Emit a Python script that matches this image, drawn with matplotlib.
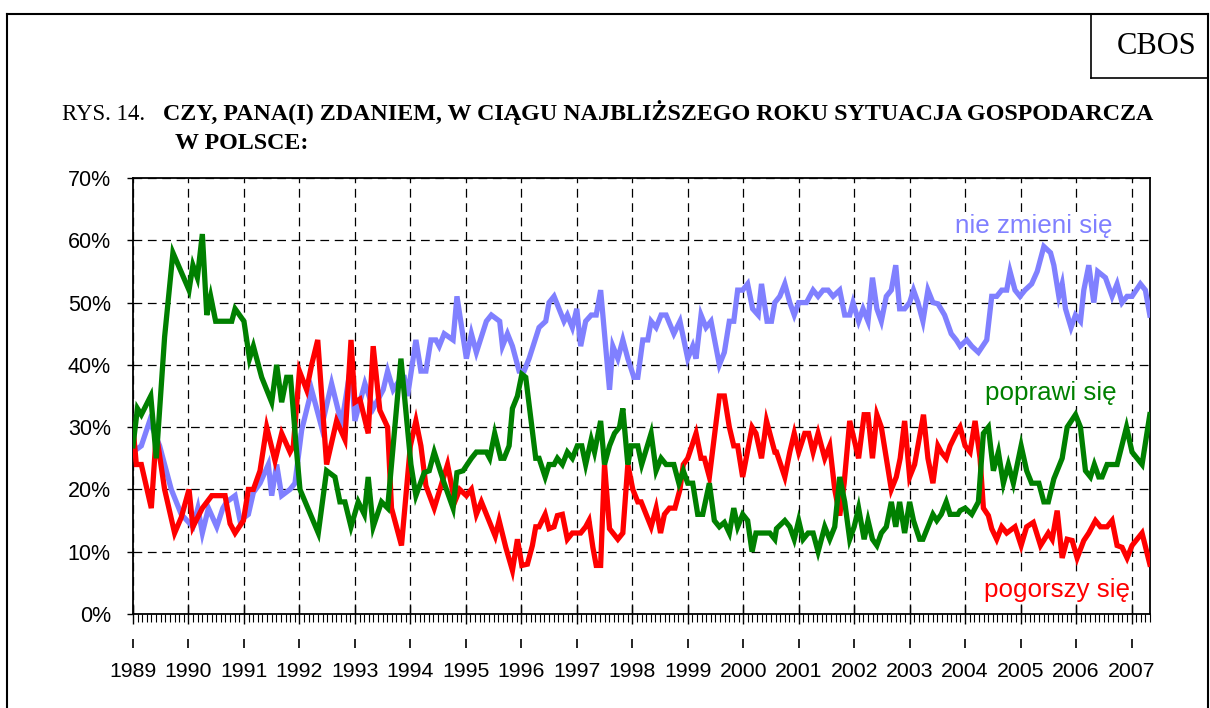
import matplotlib
matplotlib.use("Agg")
import matplotlib.pyplot as plt
import matplotlib.transforms as mtransforms
from matplotlib.lines import Line2D
import numpy as np

# ---- data (year fraction, percent) ----
nie_zmieni_x = [1989.00, 1989.15, 1989.30, 1989.48, 1989.69, 1989.87, 1990.08, 1990.17, 1990.25, 1990.36, 1990.51,
                1990.62, 1990.69, 1990.84, 1990.93, 1991.08, 1991.17, 1991.29, 1991.44, 1991.50, 1991.59, 1991.68,
                1991.83, 1991.92, 1992.04, 1992.22, 1992.40, 1992.58, 1992.76, 1992.93, 1993.00, 1993.18, 1993.33,
                1993.51, 1993.59, 1993.69, 1993.84, 1993.89, 1993.95, 1994.10, 1994.19, 1994.28, 1994.37, 1994.46,
                1994.52, 1994.61, 1994.77, 1994.84, 1995.01, 1995.10, 1995.19, 1995.37, 1995.46, 1995.61, 1995.66,
                1995.75, 1995.84, 1995.96, 1996.05, 1996.14, 1996.32, 1996.44, 1996.50, 1996.59, 1996.68, 1996.77,
                1996.83, 1996.92, 1997.00, 1997.07, 1997.16, 1997.26, 1997.35, 1997.43, 1997.59, 1997.65, 1997.74,
                1997.83, 1997.92, 1998.03, 1998.10, 1998.19, 1998.28, 1998.34, 1998.43, 1998.52, 1998.61, 1998.75,
                1998.86, 1999.00, 1999.09, 1999.15, 1999.24, 1999.33, 1999.42, 1999.57, 1999.66, 1999.75, 1999.83,
                1999.90, 1999.99, 2000.08, 2000.17, 2000.27, 2000.33, 2000.43, 2000.51, 2000.57, 2000.66, 2000.75,
                2000.84, 2000.92, 2001.00, 2001.14, 2001.26, 2001.35, 2001.44, 2001.53, 2001.62, 2001.74, 2001.83,
                2001.92, 2001.98, 2002.08, 2002.16, 2002.25, 2002.33, 2002.41, 2002.49, 2002.58, 2002.67, 2002.75,
                2002.82, 2002.91, 2003.00, 2003.07, 2003.15, 2003.24, 2003.33, 2003.42, 2003.51, 2003.63, 2003.75,
                2003.84, 2003.91, 2004.03, 2004.12, 2004.24, 2004.39, 2004.48, 2004.57, 2004.66, 2004.75, 2004.81,
                2004.90, 2004.99, 2005.08, 2005.20, 2005.30, 2005.42, 2005.54, 2005.60, 2005.69, 2005.75, 2005.81,
                2005.91, 2005.99, 2006.08, 2006.14, 2006.23, 2006.32, 2006.39, 2006.53, 2006.65, 2006.74, 2006.83,
                2006.92, 2007.01, 2007.16, 2007.25, 2007.33]
nie_zmieni_y = [26, 27, 31, 27, 20, 16, 14, 17, 13, 17, 14,
                17, 18, 19, 15, 16, 19.5, 21, 24, 19, 24, 19,
                20, 21, 29.5, 36, 30, 37, 30.5, 40, 31, 37, 33,
                36, 39, 36, 38, 38, 35, 44, 39, 39, 44, 44,
                43, 45, 44, 51, 41, 45, 42, 47, 48, 47, 43,
                45, 43, 39, 39, 41, 46, 47, 50, 51, 49, 47,
                48, 46, 49, 43, 47, 48, 48, 52, 36, 43, 41,
                44, 41, 38, 38, 44, 44, 47, 46, 48, 48, 45,
                47, 41, 43, 41, 48, 46, 47, 40, 42, 47, 47,
                52, 52, 53, 49, 48, 53, 47, 47, 50, 51, 53,
                50, 48, 50, 50, 52, 51, 52, 52, 51, 52, 48,
                48, 50, 47, 49, 47, 54, 49, 47, 51, 52, 56,
                49, 49, 50, 52, 50, 47, 52, 50, 49.8, 48, 45,
                44, 43, 44, 43, 42, 44, 51, 51, 52, 52, 55,
                52, 51, 52, 53, 55, 59, 58, 56, 51, 53, 49,
                46, 48, 47, 52, 56, 50, 55, 54, 51, 53, 50,
                51, 51, 53, 52, 48]

poprawi_x = [1989.00, 1989.08, 1989.15, 1989.32, 1989.42, 1989.57, 1989.72, 1990.01, 1990.08, 1990.16, 1990.25,
             1990.33, 1990.40, 1990.49, 1990.78, 1990.84, 1991.00, 1991.10, 1991.17, 1991.32, 1991.50, 1991.59,
             1991.68, 1991.77, 1991.84, 1991.95, 1992.01, 1992.34, 1992.49, 1992.64, 1992.73, 1992.82, 1992.93,
             1993.06, 1993.17, 1993.24, 1993.33, 1993.48, 1993.59, 1993.83, 1994.01, 1994.10, 1994.25, 1994.34,
             1994.43, 1994.61, 1994.77, 1994.84, 1994.95, 1995.10, 1995.19, 1995.37, 1995.43, 1995.52, 1995.63,
             1995.69, 1995.78, 1995.84, 1995.93, 1996.01, 1996.08, 1996.26, 1996.32, 1996.43, 1996.50, 1996.59,
             1996.65, 1996.74, 1996.83, 1996.92, 1997.01, 1997.09, 1997.16, 1997.26, 1997.32, 1997.43, 1997.50,
             1997.59, 1997.68, 1997.77, 1997.83, 1997.92, 1997.98, 1998.10, 1998.17, 1998.34, 1998.43, 1998.52,
             1998.61, 1998.75, 1998.84, 1998.92, 1999.00, 1999.09, 1999.18, 1999.27, 1999.39, 1999.48, 1999.57,
             1999.66, 1999.75, 1999.83, 1999.90, 1999.99, 2000.08, 2000.16, 2000.23, 2000.48, 2000.57, 2000.60,
             2000.75, 2000.84, 2000.92, 2001.00, 2001.08, 2001.17, 2001.26, 2001.35, 2001.47, 2001.56, 2001.65,
             2001.74, 2001.83, 2001.92, 2002.00, 2002.08, 2002.18, 2002.25, 2002.33, 2002.41, 2002.49, 2002.58,
             2002.67, 2002.75, 2002.82, 2002.91, 2003.00, 2003.07, 2003.18, 2003.24, 2003.33, 2003.42, 2003.49,
             2003.57, 2003.66, 2003.73, 2003.87, 2003.91, 2004.00, 2004.12, 2004.24, 2004.33, 2004.42, 2004.51,
             2004.60, 2004.69, 2004.78, 2004.87, 2005.01, 2005.11, 2005.20, 2005.33, 2005.42, 2005.50, 2005.60,
             2005.75, 2005.84, 2005.99, 2006.08, 2006.17, 2006.26, 2006.33, 2006.41, 2006.47, 2006.56, 2006.74,
             2006.91, 2007.01, 2007.19, 2007.33]
poprawi_y = [27, 33, 32, 35, 25, 44.5, 58, 52, 56, 54, 61,
             48, 51, 47, 47, 49, 47, 41, 43, 38, 34, 40,
             34, 38, 38, 26, 20, 13, 23, 22, 18, 18, 14,
             18, 16, 22, 14, 18, 17, 41, 24, 19, 22.7, 23,
             26, 21, 17, 22.7, 23, 25, 26, 26, 25, 29, 25,
             25, 27, 33, 35, 38.5, 38, 25, 25, 22, 24, 24,
             25, 24, 26, 25, 27, 27, 24, 28, 26, 31, 24,
             27, 29, 30, 33, 24, 27, 27, 24, 29, 23, 25,
             24, 24, 21, 23, 21, 21, 16, 16, 21, 15, 14,
             14.7, 13, 17, 14, 16, 15, 10, 13, 13, 12, 13.7,
             15, 14, 12, 15, 12, 13, 13, 10, 14, 12, 14,
             22, 18, 12, 14, 17, 12, 15, 12, 11, 13, 14,
             18, 14, 18, 13, 18, 15, 12, 12, 14, 16, 15,
             16, 18, 16, 16, 16.6, 17, 16, 18, 29, 30, 23,
             26, 21, 24, 21, 27, 23, 21, 21, 18, 18, 21.7,
             25, 30, 32, 30, 23, 22, 24, 22, 22, 24, 24,
             30, 26, 24, 32]

pogorszy_x = [1989.00, 1989.06, 1989.15, 1989.33, 1989.42, 1989.57, 1989.75, 1989.87, 1990.01, 1990.08, 1990.25,
              1990.42, 1990.66, 1990.75, 1990.84, 1990.99, 1991.08, 1991.17, 1991.29, 1991.41, 1991.56, 1991.68,
              1991.83, 1991.89, 1992.00, 1992.13, 1992.22, 1992.33, 1992.49, 1992.67, 1992.82, 1992.93, 1993.00,
              1993.09, 1993.24, 1993.33, 1993.45, 1993.59, 1993.66, 1993.84, 1994.00, 1994.10, 1994.19, 1994.28,
              1994.43, 1994.67, 1994.80, 1994.89, 1995.01, 1995.10, 1995.19, 1995.28, 1995.53, 1995.60, 1995.72,
              1995.84, 1995.93, 1996.01, 1996.11, 1996.20, 1996.26, 1996.32, 1996.43, 1996.50, 1996.59, 1996.65,
              1996.74, 1996.83, 1996.92, 1997.07, 1997.16, 1997.22, 1997.29, 1997.35, 1997.43, 1997.50, 1997.59,
              1997.74, 1997.83, 1997.92, 1998.01, 1998.10, 1998.16, 1998.25, 1998.34, 1998.43, 1998.51, 1998.58,
              1998.67, 1998.77, 1998.86, 1998.92, 1999.00, 1999.15, 1999.24, 1999.30, 1999.39, 1999.57, 1999.66,
              1999.75, 1999.83, 1999.90, 1999.99, 2000.16, 2000.23, 2000.33, 2000.42, 2000.51, 2000.57, 2000.60,
              2000.75, 2000.84, 2000.92, 2001.00, 2001.11, 2001.18, 2001.26, 2001.35, 2001.47, 2001.56, 2001.65,
              2001.74, 2001.82, 2001.92, 2002.00, 2002.08, 2002.18, 2002.25, 2002.33, 2002.41, 2002.49, 2002.58,
              2002.67, 2002.76, 2002.83, 2002.91, 2003.00, 2003.09, 2003.17, 2003.25, 2003.33, 2003.42, 2003.51,
              2003.57, 2003.66, 2003.73, 2003.84, 2003.91, 2004.00, 2004.09, 2004.18, 2004.27, 2004.33, 2004.42,
              2004.48, 2004.57, 2004.66, 2004.75, 2004.90, 2005.01, 2005.11, 2005.23, 2005.36, 2005.50, 2005.57,
              2005.66, 2005.75, 2005.84, 2005.93, 2006.02, 2006.14, 2006.23, 2006.35, 2006.44, 2006.56, 2006.65,
              2006.74, 2006.83, 2006.92, 2007.01, 2007.10, 2007.19, 2007.33]
pogorszy_y = [30, 24, 24, 17, 29, 20, 13, 15.5, 20, 14, 17,
              19, 19, 14.5, 13, 15, 20, 20, 23, 30, 24.6, 29,
              26, 27, 39, 36, 40, 44, 24, 31, 28, 44, 34,
              34.5, 29, 43, 32.7, 30, 17, 11, 27, 31, 27, 20.6,
              17, 24, 18, 20, 19, 20, 16, 18, 12.5, 15, 10.7,
              7, 12, 7.8, 8, 11, 14, 14, 16, 13.7, 14, 15.8,
              16, 12, 13, 13, 14, 15, 10.7, 7.8, 7.8, 24, 13.7,
              12, 13, 24, 20, 18, 18, 16, 14, 17, 13, 16,
              17, 17, 20, 24, 25, 29, 25, 25, 22, 35, 35,
              30, 27, 27, 22, 30, 29, 25, 31, 28, 26, 26,
              22, 26, 29, 26, 29, 29, 26, 29, 25, 27, 20,
              15.8, 21, 31, 28, 25, 32, 32, 25, 32, 30, 25,
              20, 22, 25, 31, 22, 24, 28, 32, 25, 21, 27,
              26, 25, 27, 29, 30, 27, 26, 31, 25, 17, 15.8,
              13.7, 12, 14, 13, 14, 11, 14, 14.7, 11, 13, 12,
              16.6, 9, 12, 11.8, 9, 11.8, 13, 15, 14, 14, 15,
              11, 10.7, 9, 11, 12, 13, 8]

year_ticks = list(range(1989, 2008))
y_ticks = [0, 10, 20, 30, 40, 50, 60, 70]

title_prefix = "RYS. 14."
title_line1 = "CZY, PANA(I) ZDANIEM, W CIĄGU NAJBLIŻSZEGO ROKU SYTUACJA GOSPODARCZA"
title_line2 = "W POLSCE:"
series_labels = ["nie zmieni się", "poprawi się", "pogorszy się"]

BLUE = "#8080FF"
GREEN = "#008000"
RED = "#FF0000"

W, H = 1210, 708
fig = plt.figure(figsize=(W / 100, H / 100), dpi=100)
fig.patch.set_facecolor("white")

def fx(px):
    return px / W

def fy(py):
    return 1 - py / H

# outer frame and CBOS box
fig.add_artist(Line2D([fx(7), fx(7)], [fy(14), -0.01], color="black", lw=1.5))
fig.add_artist(Line2D([fx(7), fx(1208)], [fy(14), fy(14)], color="black", lw=1.5))
fig.add_artist(Line2D([fx(1208), fx(1208)], [fy(14), -0.01], color="black", lw=1.5))
fig.add_artist(Line2D([fx(1091), fx(1091)], [fy(14), fy(78)], color="black", lw=1.2))
fig.add_artist(Line2D([fx(1091), fx(1208)], [fy(78), fy(78)], color="black", lw=1.2))
fig.text(fx(1157), fy(46), "CBOS", family="Liberation Serif", fontsize=22, ha="center", va="center")

# titles (shared baseline)
fig.text(fx(62), fy(120), title_prefix, family="Liberation Serif", fontsize=16.5, ha="left", va="baseline")
fig.text(fx(163), fy(120), title_line1, family="Liberation Serif", fontsize=17.3, weight="bold",
         ha="left", va="baseline")
fig.text(fx(175), fy(149), title_line2, family="Liberation Serif", fontsize=17.3, weight="bold",
         ha="left", va="baseline")

ax = fig.add_axes([fx(133), fy(614), fx(1150) - fx(133), (614 - 178) / H])
ax.plot(nie_zmieni_x, nie_zmieni_y, color=BLUE, lw=3.8, solid_joinstyle="miter", zorder=3)
ax.plot(pogorszy_x, pogorszy_y, color=RED, lw=3.8, solid_joinstyle="miter", zorder=4)
ax.plot(poprawi_x, poprawi_y, color=GREEN, lw=3.8, solid_joinstyle="miter", zorder=5)

ax.set_xlim(1989, 2007.33)
ax.set_ylim(0, 70)
ax.set_yticks(y_ticks)
ax.set_yticklabels([f"{v}%" for v in y_ticks], family="Liberation Sans", fontsize=15.5)
ax.set_xticks(year_ticks)
ax.set_xticklabels([str(y) for y in year_ticks], family="Liberation Sans", fontsize=15.3)
ax.set_xticks(np.arange(1989, 2007.34, 1 / 12), minor=True)

ax.tick_params(axis="x", which="major", direction="inout", length=15, width=1, pad=27)
ax.tick_params(axis="x", which="minor", direction="out", length=5.5, width=0.8)
ax.tick_params(axis="y", which="major", direction="out", length=4, width=1, pad=12)

for s in ax.spines.values():
    s.set_color("black")
    s.set_linewidth(1.3)

ax.grid(True, which="major", color="black", lw=0.9, linestyle=(0, (7, 4.5)))
ax.set_axisbelow(True)

# separate small marks above the year labels
trans = mtransforms.blended_transform_factory(ax.transData, ax.transAxes)
ax.vlines(year_ticks, -0.057, -0.077, transform=trans, color="black", lw=1.2, clip_on=False)

# series labels
box = dict(facecolor="white", edgecolor="none", pad=1)
ax.text(2006.66, 62.3, series_labels[0], color=BLUE, family="Liberation Sans", fontsize=18.7,
        ha="right", va="center", bbox=box, zorder=2)
ax.text(2006.74, 35.5, series_labels[1], color=GREEN, family="Liberation Sans", fontsize=18.7,
        ha="right", va="center", bbox=box, zorder=2)
ax.text(2006.97, 3.85, series_labels[2], color=RED, family="Liberation Sans", fontsize=18.7,
        ha="right", va="center", bbox=box, zorder=2)

fig.savefig("out.png", dpi=100, facecolor="white")
